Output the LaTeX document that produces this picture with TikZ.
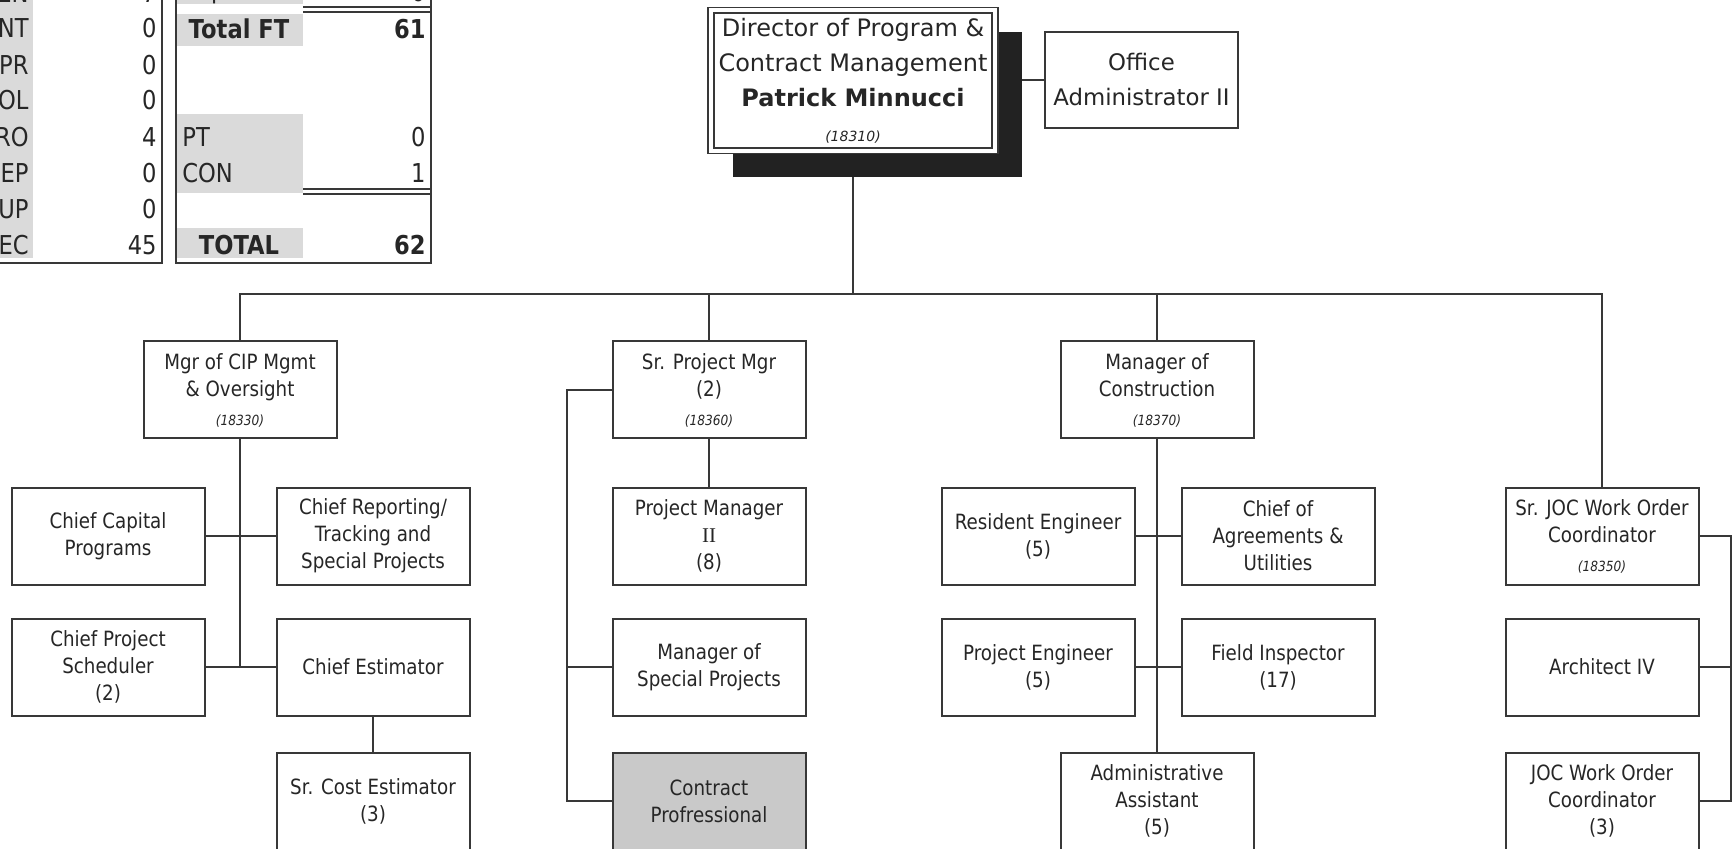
\documentclass[tikz,border=0pt]{standalone}
\usepackage{fontspec}
\setmainfont{DejaVu Sans}[FakeStretch=0.87]
\newfontfamily\widefont{DejaVu Sans}[FakeStretch=1.0]
\newfontfamily\numeralfont{Liberation Serif}

\definecolor{linec}{HTML}{383838}
\definecolor{textc}{HTML}{262626}
\definecolor{shadowc}{HTML}{222222}
\definecolor{cellgray}{HTML}{DADADA}
\definecolor{boxgray}{HTML}{C9C9C9}

\newcommand\boxfont{\fontsize{10.5}{13.5}\selectfont}
\newcommand\headfont{\widefont\fontsize{12}{17.5}\selectfont}
\newcommand\officefont{\widefont\fontsize{11.4}{17.5}\selectfont}
\newcommand\tabfont{\fontsize{13}{16}\selectfont}
\newcommand\idtag[1]{{\fontsize{7}{9}\selectfont\itshape(#1)}}

\begin{document}
\begin{tikzpicture}[x=0.5pt,y=-0.5pt,
  box/.style={draw=linec, line width=1pt, fill=white, text=textc,
    minimum width=96.5pt, minimum height=48.5pt, inner sep=0pt,
    align=center, font=\boxfont},
  graybox/.style={box, fill=boxgray},
  conn/.style={draw=linec, line width=0.85pt},
  rule/.style={draw=linec, line width=1pt},
  cell/.style={inner sep=0pt, text=textc, font=\tabfont},
]
\useasboundingbox (0,0) rectangle (1732,849);
\fill[white] (0,0) rectangle (1732,849);

% ---------- staffing tables (top left) ----------
\fill[cellgray] (-10,-10) rectangle (33,258);
\draw[rule] (162,-10) -- (162,263) -- (-10,263);
\foreach \lab/\val/\yy [count=\i] in {EN/7/-7, NT/0/28, PR/0/65, OL/0/100, RO/4/137, EP/0/173, UP/0/209, EC/45/245}{
  \node[cell, anchor=east] (la\i) at (29,\yy) {\lab};
  \node[cell, anchor=east] (lv\i) at (157,\yy) {\val};
}
\fill[cellgray] (176,-10) rectangle (303,4);
\fill[cellgray] (176,14) rectangle (303,46);
\fill[cellgray] (176,114) rectangle (303,193);
\fill[cellgray] (176,228) rectangle (303,258);
\draw[rule] (176,-10) -- (176,263) -- (431,263) -- (431,-10);
\draw[rule, line width=0.8pt] (303,7) -- (431,7) (303,12) -- (431,12);
\draw[rule, line width=0.8pt] (303,189) -- (431,189) (303,194) -- (431,194);
\node[cell, anchor=west] (rrep) at (182,-8) {Rep};
\node[cell, anchor=east] (vrep) at (426,-8) {0};
\node[cell, font=\tabfont\bfseries] (rft) at (239,29) {Total FT};
\node[cell, anchor=east, font=\tabfont\bfseries] (vft) at (426,29) {61};
\node[cell, anchor=west] (rpt) at (182,137) {PT};
\node[cell, anchor=east] (vpt) at (426,137) {0};
\node[cell, anchor=west] (rcon) at (182,173) {CON};
\node[cell, anchor=east] (vcon) at (426,173) {1};
\node[cell, font=\tabfont\bfseries] (rtot) at (239,245) {TOTAL};
\node[cell, anchor=east, font=\tabfont\bfseries] (vtot) at (426,245) {62};

% ---------- director ----------
\node[fill=shadowc, minimum width=144.5pt, minimum height=72.5pt, inner sep=0pt] (dirsh) at (877.5,104.5) {};
\node[draw=linec, line width=0.75pt, double=white, double distance=2.2pt, fill=white, text=textc,
      minimum width=142pt, minimum height=70.25pt, inner sep=0pt, align=center, font=\headfont]
  (dir) at (853,80.5) {Director of Program \&\\Contract Management\\\textbf{Patrick Minnucci}\\[0pt]\idtag{18310}};
\node[box, minimum width=96.5pt, minimum height=48pt, font=\officefont] (off) at (1141.5,80) {Office\\Administrator II};

% ---------- division heads ----------
\node[box] (cip) at (240,390) {Mgr of CIP Mgmt\\\& Oversight\\[1pt]\idtag{18330}};
\node[box] (spm) at (709,390) {Sr. Project Mgr\\(2)\\[1pt]\idtag{18360}};
\node[box] (con) at (1157,390) {Manager of\\Construction\\[1pt]\idtag{18370}};

% ---------- CIP group ----------
\node[box] (cap) at (108,536) {Chief Capital\\Programs};
\node[box] (rep) at (373,536) {Chief Reporting/\\Tracking and\\Special Projects};
\node[box] (sch) at (108,667) {Chief Project\\Scheduler\\(2)};
\node[box] (est) at (373,667) {Chief Estimator};
\node[box] (cost) at (373,801) {Sr. Cost Estimator\\(3)};

% ---------- project management group ----------
\node[box] (pm2) at (709,536) {Project Manager\\{\numeralfont II}\\(8)};
\node[box] (msp) at (709,667) {Manager of\\Special Projects};
\node[graybox] (cpro) at (709,801) {Contract\\Profressional};

% ---------- construction group ----------
\node[box] (res) at (1038,536) {Resident Engineer\\(5)};
\node[box] (agr) at (1278,536) {Chief of\\Agreements \&\\Utilities};
\node[box] (peng) at (1038,667) {Project Engineer\\(5)};
\node[box] (fin) at (1278,667) {Field Inspector\\(17)};
\node[box] (adm) at (1157,801) {Administrative\\Assistant\\(5)};

% ---------- JOC group ----------
\node[box] (sjoc) at (1602,536) {Sr. JOC Work Order\\Coordinator\\[1pt]\idtag{18350}};
\node[box] (arch) at (1602,667) {Architect IV};
\node[box] (joc) at (1602,801) {JOC Work Order\\Coordinator\\(3)};

% ---------- connectors ----------
\coordinate (busy) at (0,294);
\coordinate (spmrail) at (567,0);
\coordinate (jocrail) at (1731,0);

\draw[conn] (dir.south |- dirsh.south) -- (dir.south |- busy);
\draw[conn] (dirsh.east |- off.west) -- (off.west);
\draw[conn] (cip.north) -- (cip.north |- busy) -- (sjoc.north |- busy) -- (sjoc.north);
\draw[conn] (spm.north) -- (spm.north |- busy);
\draw[conn] (con.north) -- (con.north |- busy);

\draw[conn] (cip.south) -- (cip.south |- sch.east);
\draw[conn] (cap.east) -- (rep.west);
\draw[conn] (sch.east) -- (est.west);
\draw[conn] (est.south) -- (cost.north);

\draw[conn] (spm.south) -- (pm2.north);
\draw[conn] (spm.west) -- (spmrail |- spm.west) -- (spmrail |- cpro.west) -- (cpro.west);
\draw[conn] (msp.west) -- (spmrail |- msp.west);

\draw[conn] (con.south) -- (adm.north);
\draw[conn] (res.east) -- (agr.west);
\draw[conn] (peng.east) -- (fin.west);

\draw[conn] (sjoc.east) -- (jocrail |- sjoc.east) -- (jocrail |- joc.east) -- (joc.east);
\draw[conn] (arch.east) -- (jocrail |- arch.east);
\end{tikzpicture}
\end{document}
